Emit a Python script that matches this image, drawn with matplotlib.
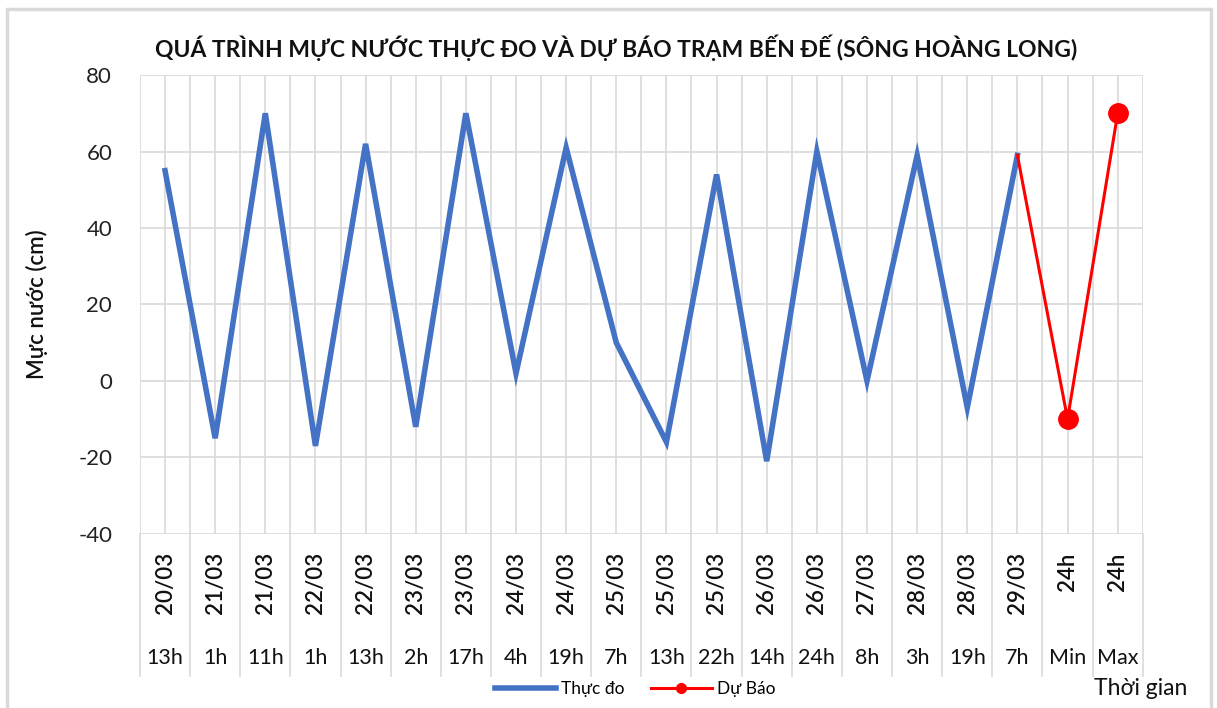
import numpy as np
import matplotlib
matplotlib.use('Agg')
import matplotlib.pyplot as plt
from matplotlib.transforms import blended_transform_factory
from matplotlib.lines import Line2D
from matplotlib.patches import Rectangle

plt.rcParams['font.family'] = ['Lato', 'DejaVu Sans']
plt.rcParams['axes.unicode_minus'] = False

# category axis: two levels (date / hour)
dates = ['20/03', '21/03', '21/03', '22/03', '22/03', '23/03', '23/03', '24/03', '24/03', '25/03',
         '25/03', '25/03', '26/03', '26/03', '27/03', '28/03', '28/03', '29/03', '24h', '24h']
hours = ['13h', '1h', '11h', '1h', '13h', '2h', '17h', '4h', '19h', '7h',
         '13h', '22h', '14h', '24h', '8h', '3h', '19h', '7h', 'Min', 'Max']

# water level (cm)
thuc_do = [55, -15, 70, -17, 62, -12, 70, 2, 61, 10, -16, 54, -21, 60, 0, 59, -7, 59]
du_bao = [59, -10, 70]          # from 29/03 7h, then Min, Max

yticks = [-40, -20, 0, 20, 40, 60, 80]

blue = '#4472C4'
red = '#FF0000'
grid_c = '#d9d9d9'

fig = plt.figure(figsize=(12.17, 7.08), dpi=100)
ax = fig.add_axes([0.115, 0.246, 0.824, 0.648])

x = np.arange(len(hours))
x_obs = x[:len(thuc_do)]
x_fc = x[len(thuc_do) - 1:]

ax.plot(x_obs, thuc_do, color=blue, lw=4, solid_joinstyle='miter', zorder=3)
ax.plot(x_fc, du_bao, color=red, lw=2.2, zorder=4)
ax.plot(x_fc[1:], du_bao[1:], 'o', color=red, ms=14, zorder=5)

ax.set_xlim(-0.5, len(hours) - 0.5)
ax.set_ylim(-40, 80)
ax.set_yticks(yticks)
ax.set_xticks(np.arange(-0.5, len(hours), 0.5))
ax.set_xticklabels([])
ax.tick_params(axis='both', length=0, labelsize=16, colors='#222222', pad=20)
ax.grid(True, color=grid_c, lw=1.2)
ax.set_axisbelow(True)
for s in ax.spines.values():
    s.set_visible(False)

ax.set_ylabel('Mực nước (cm)', fontsize=16, fontweight='semibold', color='#111111')
ax.yaxis.set_label_coords(-0.092, 0.5)

# multi-level category labels
tr = blended_transform_factory(ax.transData, ax.transAxes)
for b in np.arange(-0.5, len(hours), 1.0):
    ax.plot([b, b], [0, -0.31], color=grid_c, lw=1.2, transform=tr, clip_on=False)
for i in range(len(hours)):
    ax.text(i, -0.04, dates[i], rotation=90, ha='center', va='top', fontsize=16,
            fontweight='semibold', color='#111111', transform=tr)
    ax.text(i, -0.27, hours[i], ha='center', va='center', fontsize=15.5,
            color='#111111', transform=tr)

fig.text(0.506, 0.933, 'QUÁ TRÌNH MỰC NƯỚC THỰC ĐO VÀ DỰ BÁO TRẠM BẾN ĐẾ (SÔNG HOÀNG LONG)',
         ha='center', va='center', fontsize=16.5, fontweight='bold', color='#111111')
fig.text(0.937, 0.027, 'Thời gian', ha='center', va='center', fontsize=16.5, color='#111111')

handles = [Line2D([], [], color=blue, lw=4),
           Line2D([], [], color=red, lw=2.2, marker='o', ms=7)]
fig.legend(handles, ['Thực đo', 'Dự Báo'], loc='center', bbox_to_anchor=(0.522, 0.027),
           ncol=2, frameon=False, fontsize=12.5, handlelength=3.5, columnspacing=1.5,
           handletextpad=0.3)

# chart frame
fig.patches.append(Rectangle((0.006, -0.01), 0.989, 0.997, transform=fig.transFigure,
                             fill=False, edgecolor='#d9d9d9', lw=2.5))

fig.savefig('out.png', dpi=100)
